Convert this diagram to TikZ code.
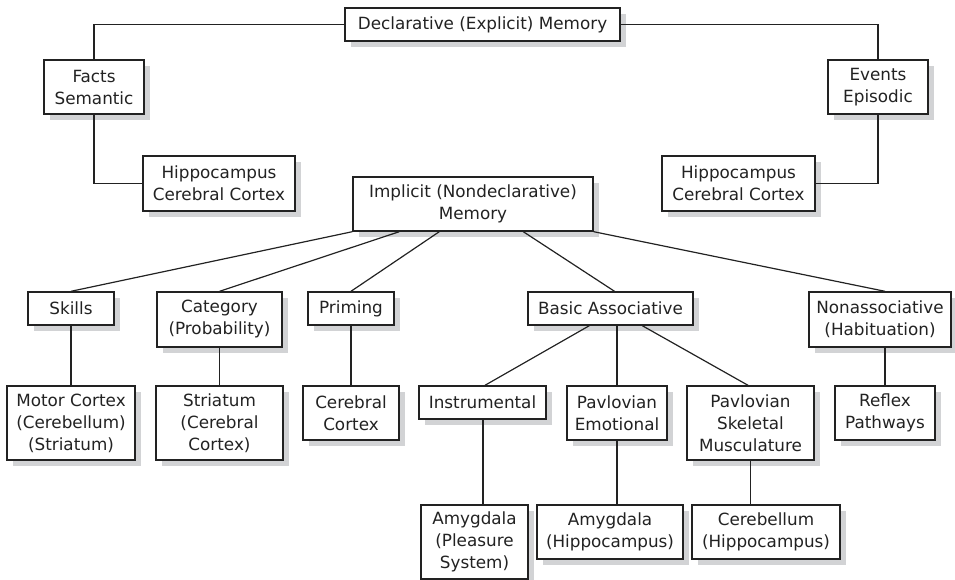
\documentclass[tikz,border=0pt]{standalone}
\usepackage{fontspec}
\setmainfont{DejaVu Sans}
\usetikzlibrary{shadows,calc}
\definecolor{ink}{HTML}{222222}
\definecolor{shade}{HTML}{D2D3D5}
\begin{document}
\begin{tikzpicture}[x=1pt,y=-1pt,
  box/.style={draw=ink,line width=1.4pt,fill=white,text=ink,inner sep=0pt,align=center,
    font=\fontsize{16.8pt}{22pt}\selectfont,
    drop shadow={shadow xshift=6pt,shadow yshift=-6pt,fill=shade,opacity=1}},
  link/.style={draw=ink,line width=1.2pt}]
\useasboundingbox (0,0) rectangle (955,580);
\node[box,minimum width=275pt,minimum height=33pt] (decl) at (482.5,24.5) {Declarative (Explicit) Memory};
\node[box,minimum width=100pt,minimum height=54pt] (facts) at (94,87) {Facts\\Semantic};
\node[box,minimum width=152pt,minimum height=55pt] (hipL) at (219,183.5) {Hippocampus\\Cerebral Cortex};
\node[box,minimum width=100pt,minimum height=54pt] (events) at (878,87) {Events\\Episodic};
\node[box,minimum width=153pt,minimum height=55pt] (hipR) at (738.5,183.5) {Hippocampus\\Cerebral Cortex};
\node[box,minimum width=240pt,minimum height=54pt] (impl) at (473,204) {Implicit (Nondeclarative)\\Memory};
\node[box,minimum width=86pt,minimum height=33pt] (skills) at (71,308.5) {Skills};
\node[box,minimum width=125pt,minimum height=55pt] (category) at (219.5,319.5) {Category\\(Probability)};
\node[box,minimum width=86pt,minimum height=33pt] (priming) at (351,308.5) {Priming};
\node[box,minimum width=165pt,minimum height=33pt] (basic) at (610.5,308.5) {Basic Associative};
\node[box,minimum width=142pt,minimum height=55pt] (nonassoc) at (880,319.5) {Nonassociative\\(Habituation)};
\node[box,minimum width=128pt,minimum height=74pt] (motor) at (71,423) {Motor Cortex\\(Cerebellum)\\(Striatum)};
\node[box,minimum width=127pt,minimum height=74pt] (striatum) at (219.5,423) {Striatum\\(Cerebral\\Cortex)};
\node[box,minimum width=96pt,minimum height=54pt] (cerebral) at (351,413) {Cerebral\\Cortex};
\node[box,minimum width=127pt,minimum height=33pt] (instr) at (482.5,402.5) {Instrumental};
\node[box,minimum width=100pt,minimum height=54pt] (pavE) at (617,413) {Pavlovian\\Emotional};
\node[box,minimum width=127pt,minimum height=74pt] (pavS) at (750.5,423) {Pavlovian\\Skeletal\\Musculature};
\node[box,minimum width=100pt,minimum height=54pt] (reflex) at (885,413) {Reflex\\Pathways};
\node[box,minimum width=107pt,minimum height=74pt] (amyP) at (474.5,542) {Amygdala\\(Pleasure\\System)};
\node[box,minimum width=146pt,minimum height=54pt] (amyH) at (610,532) {Amygdala\\(Hippocampus)};
\node[box,minimum width=148pt,minimum height=54pt] (cereb) at (766,532) {Cerebellum\\(Hippocampus)};
% declarative branch
\draw[link] (decl.west) -| (facts.north);
\draw[link] (facts.south) |- (hipL.west);
\draw[link] (decl.east) -| (events.north);
\draw[link] (events.south) |- (hipR.east);
% implicit branch
\draw[link] (impl.south west) -- (skills.north);
\draw[link] ([xshift=47pt]impl.south west) -- (category.north);
\draw[link] ([xshift=87pt]impl.south west) -- (priming.north);
\draw[link] ([xshift=171pt]impl.south west) -- ([xshift=4pt]basic.north);
\draw[link] (impl.south east) -- ([xshift=5pt]nonassoc.north);
\draw[link] (skills.south) -- (motor.north);
\draw[link] (category.south) -- (striatum.north);
\draw[link] (priming.south) -- (cerebral.north);
\draw[link] (reflex.north |- nonassoc.south) -- (reflex.north);
\draw[link] ([xshift=62pt]basic.south west) -- ([xshift=2.5pt]instr.north);
\draw[link] (pavE.north |- basic.south) -- (pavE.north);
\draw[link] ([xshift=115pt]basic.south west) -- ([xshift=-2.5pt]pavS.north);
\draw[link] ([xshift=0.5pt]instr.south) -- ([xshift=0.5pt]instr.south |- amyP.north);
\draw[link] (pavE.south) -- (pavE.south |- amyH.north);
\draw[link] (pavS.south) -- (pavS.south |- cereb.north);
\end{tikzpicture}
\end{document}
